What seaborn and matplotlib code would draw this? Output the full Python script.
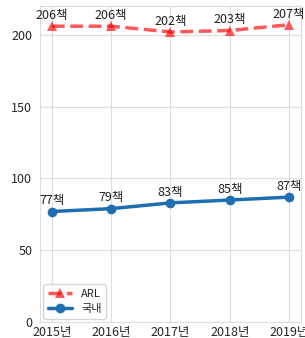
import matplotlib
matplotlib.use('Agg')
import matplotlib.pyplot as plt
import pandas as pd
import seaborn as sns

# chart data
years = ['2015년', '2016년', '2017년', '2018년', '2019년']
arl = [206, 206, 202, 203, 207]
domestic = [77, 79, 83, 85, 87]

sns.set_style('whitegrid')
plt.rcParams['font.family'] = ['Noto Sans CJK KR', 'DejaVu Sans']

df = pd.DataFrame({'year': years, 'ARL': arl, '국내': domestic})

fig = plt.figure(figsize=(3.05, 3.38), dpi=100)
ax = fig.add_axes([0.131, 0.047, 0.856, 0.935])

sns.lineplot(data=df, x='year', y='ARL', ax=ax, color='red', alpha=0.65,
             linestyle='--', marker='^', markersize=7, markeredgewidth=0,
             linewidth=2.5, label='ARL')
sns.lineplot(data=df, x='year', y='국내', ax=ax, color='#1f6eb0',
             marker='o', markersize=7, markeredgewidth=0,
             linewidth=2.5, label='국내')

# value labels above points
for i, v in enumerate(arl):
    ax.annotate(f'{v}책', (i, v), xytext=(0, 3), textcoords='offset points',
                ha='center', va='bottom', fontsize=9, color='#222222')
for i, v in enumerate(domestic):
    ax.annotate(f'{v}책', (i, v), xytext=(0, 3), textcoords='offset points',
                ha='center', va='bottom', fontsize=9, color='#222222')

ax.set_ylim(0, 220)
ax.set_xlim(-0.2, 4.2)
ax.set_yticks([0, 50, 100, 150, 200])
ax.set_xlabel('')
ax.set_ylabel('')
ax.tick_params(axis='y', labelsize=9, pad=2)
ax.tick_params(axis='x', labelsize=9, pad=-1)
for s in ax.spines.values():
    s.set_color('#dddddd')
ax.grid(color='#dddddd', linewidth=0.8)

ax.legend(loc='lower left', fontsize=8, frameon=True, borderpad=0.4,
          handlelength=2.2, borderaxespad=0.3, bbox_to_anchor=(0.0, 0.0))

fig.savefig('out.png', dpi=100)
